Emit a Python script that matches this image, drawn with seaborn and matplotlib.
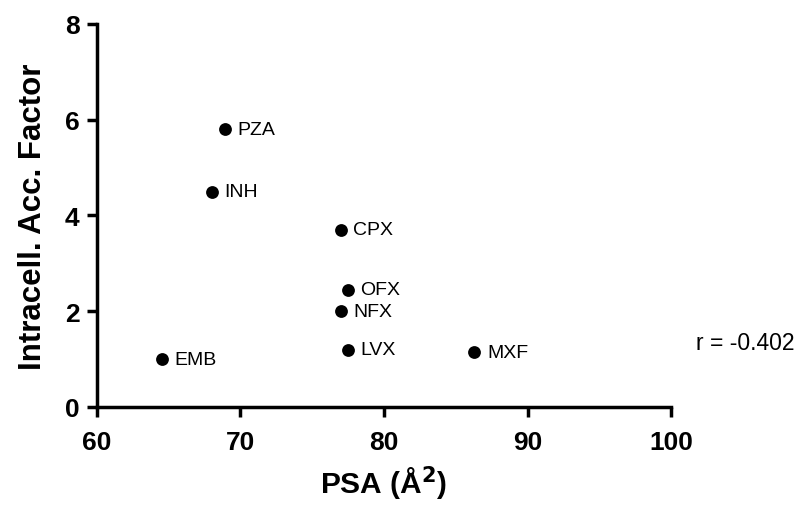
import matplotlib
matplotlib.use("Agg")
import matplotlib.pyplot as plt
import seaborn as sns
import pandas as pd

drugs = ["PZA", "INH", "CPX", "OFX", "NFX", "LVX", "MXF", "EMB"]
psa = [68.9, 68.0, 77.0, 77.5, 77.0, 77.5, 86.3, 64.5]
acc_factor = [5.8, 4.5, 3.7, 2.45, 2.0, 1.2, 1.14, 1.0]
x_ticks = [60, 70, 80, 90, 100]
y_ticks = [0, 2, 4, 6, 8]
r_text = "r = -0.402"

sns.set_style("ticks")
plt.rcParams["font.family"] = ["Liberation Sans", "DejaVu Sans"]
plt.rcParams["text.color"] = "black"
plt.rcParams["axes.labelcolor"] = "black"

df = pd.DataFrame({"drug": drugs, "psa": psa, "acc": acc_factor})

fig = plt.figure(figsize=(8.04, 5.10), dpi=100)
ax = fig.add_axes([0.1206, 0.2, 0.714, 0.751])

sns.scatterplot(data=df, x="psa", y="acc", ax=ax, color="black",
                s=85, edgecolor="black", linewidth=0, clip_on=False, zorder=3)

for name, xv, yv in zip(drugs, psa, acc_factor):
    ax.annotate(name, (xv, yv), xytext=(9, 0), textcoords="offset points",
                ha="left", va="center", fontsize=14, color="black")

ax.set_xlim(60, 100)
ax.set_ylim(0, 8)
ax.set_xticks(x_ticks)
ax.set_yticks(y_ticks)
for lbl in ax.get_xticklabels() + ax.get_yticklabels():
    lbl.set_fontweight("bold")
ax.tick_params(axis="both", length=7.5, width=2.5, labelsize=19,
               color="black", labelcolor="black", direction="out")
ax.tick_params(axis="x", pad=9)
ax.tick_params(axis="y", pad=5)

for side in ["top", "right"]:
    ax.spines[side].set_visible(False)
for side in ["left", "bottom"]:
    ax.spines[side].set_linewidth(2.5)
    ax.spines[side].set_color("black")

ax.set_xlabel("PSA (Å$^\\mathbf{2}$)", fontsize=21.5, fontweight="bold",
              labelpad=7, color="black")
ax.set_ylabel("Intracell. Acc. Factor", fontsize=22.5, fontweight="bold",
              labelpad=12, color="black")

fig.text(0.866, 0.327, r_text, fontsize=16.5, ha="left", va="center",
         color="black")

fig.savefig("out.png", dpi=100)
